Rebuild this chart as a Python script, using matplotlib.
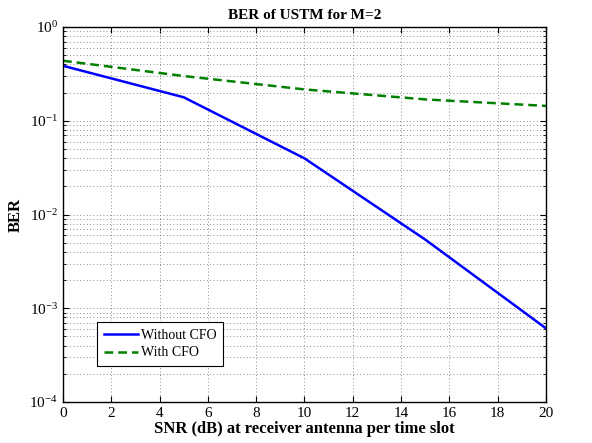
import matplotlib
matplotlib.use("Agg")
import matplotlib.pyplot as plt
from matplotlib.ticker import LogLocator, FixedLocator, NullFormatter

plt.rcParams['font.family'] = ['Liberation Serif', 'DejaVu Serif']
plt.rcParams['mathtext.fontset'] = 'custom'
plt.rcParams['mathtext.rm'] = 'Liberation Serif'
plt.rcParams['mathtext.it'] = 'Liberation Serif:italic'
plt.rcParams['mathtext.bf'] = 'Liberation Serif:bold'

snr = [0, 5, 10, 15, 20]
ber_without_cfo = [0.386, 0.178, 0.0397, 0.0054, 0.00061]
ber_with_cfo = [0.437, 0.30, 0.216, 0.169, 0.144]
x_ticks = [0, 2, 4, 6, 8, 10, 12, 14, 16, 18, 20]

fig = plt.figure(figsize=(5.92, 4.43), dpi=100)
ax = fig.add_axes([0.1064, 0.0926, 0.8159, 0.8464])

ax.semilogy(snr, ber_without_cfo, color=(0, 0, 1), lw=1.8, label='Without CFO')
ax.semilogy(snr, ber_with_cfo, color=(0, 0.5, 0), lw=1.8, ls=(0, (3.5, 2)), label='With CFO')

ax.set_xlim(0, 20)
ax.set_ylim(1e-4, 1)
ax.xaxis.set_major_locator(FixedLocator(x_ticks))
ax.yaxis.set_major_locator(LogLocator(base=10, numticks=10))
ax.yaxis.set_minor_locator(LogLocator(base=10, subs=range(2, 10), numticks=20))
ax.yaxis.set_minor_formatter(NullFormatter())

ax.grid(True, which='major', axis='both', ls=(0, (1, 3)), color='0.4', lw=0.6)
ax.grid(True, which='minor', axis='y', ls=(0, (1, 3)), color='0.4', lw=0.6)

ax.tick_params(which='both', direction='in', top=True, right=True, labelsize=11)
ax.tick_params(which='major', length=4)
ax.tick_params(which='minor', length=2)
for s in ax.spines.values():
    s.set_linewidth(1.0)

ax.set_title('BER of USTM for M=2', fontsize=11, fontweight='bold', pad=6)
ax.set_xlabel('SNR (dB) at receiver antenna per time slot', fontsize=12, fontweight='bold', labelpad=1)
ax.set_ylabel('BER', fontsize=12, fontweight='bold', labelpad=4)

leg = ax.legend(loc='lower left', bbox_to_anchor=(0.07, 0.095), fontsize=10,
                frameon=True, fancybox=False, edgecolor='black', framealpha=1,
                handlelength=2.5, handletextpad=0.15, borderpad=0.5, labelspacing=0.35,
                borderaxespad=0)
leg.get_frame().set_linewidth(0.8)

fig.savefig('out.png', dpi=100)
